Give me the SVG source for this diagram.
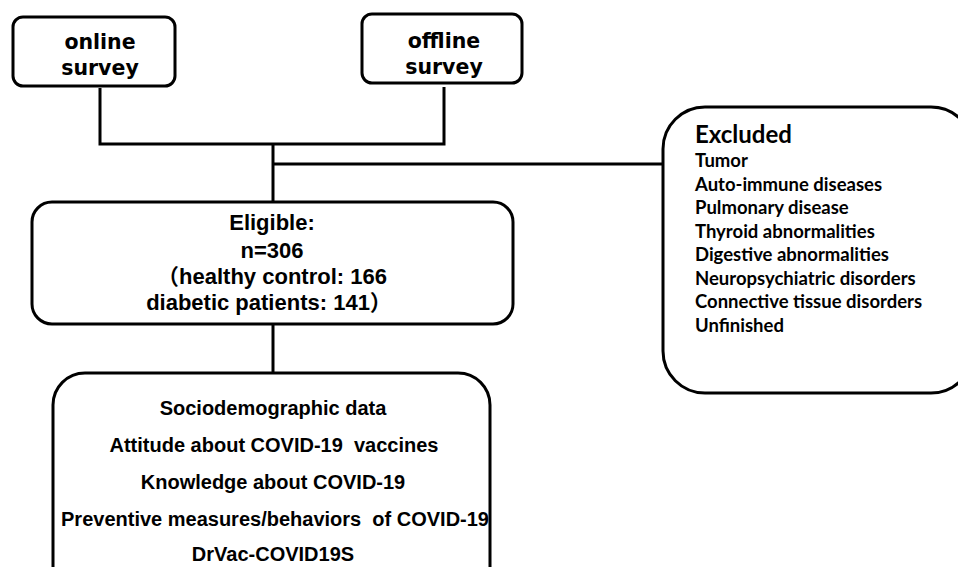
<svg xmlns="http://www.w3.org/2000/svg" width="958" height="567" viewBox="0 0 958 567">
<style>
.box{fill:#fff;stroke:#000;stroke-width:3}
.ln{fill:none;stroke:#000;stroke-width:3}
.sv{font-family:"DejaVu Sans",sans-serif;font-weight:bold;font-size:20.5px;text-anchor:middle;fill:#000}
.ar{font-family:"Liberation Sans","Noto Sans CJK SC",sans-serif;font-weight:bold;font-size:22px;text-anchor:middle;fill:#000}
.ar2{font-family:"Liberation Sans",sans-serif;font-weight:bold;font-size:20px;text-anchor:middle;fill:#000}
.ex{font-family:Lato,"Open Sans",sans-serif;font-weight:bold;font-size:18.5px;fill:#000}
.exh{font-family:Lato,"Open Sans",sans-serif;font-weight:bold;font-size:24px;fill:#000}
</style>
<rect width="958" height="567" fill="#fff"/>
<g id="connectors">
<polyline class="ln" points="100,88 100,144 444,144 444,87"/>
<line class="ln" x1="273" y1="144" x2="273" y2="203"/>
<line class="ln" x1="273" y1="164" x2="664" y2="164"/>
<line class="ln" x1="273" y1="324" x2="273" y2="374"/>
</g>
<g id="online">
<rect class="box" x="13" y="17" width="162" height="69" rx="10"/>
<text class="sv" x="100" y="49">online</text>
<text class="sv" x="100" y="75">survey</text>
</g>
<g id="offline">
<rect class="box" x="362" y="14" width="160" height="69" rx="10"/>
<text class="sv" x="444" y="48">offline</text>
<text class="sv" x="444" y="74">survey</text>
</g>
<g id="excluded">
<rect class="box" x="663" y="107" width="310" height="286" rx="42"/>
<text class="exh" x="695" y="143">Excluded</text>
<text class="ex" x="695" y="167">Tumor</text>
<text class="ex" x="695" y="191">Auto-immune diseases</text>
<text class="ex" x="695" y="214">Pulmonary disease</text>
<text class="ex" x="695" y="238">Thyroid abnormalities</text>
<text class="ex" x="695" y="261">Digestive abnormalities</text>
<text class="ex" x="695" y="285">Neuropsychiatric disorders</text>
<text class="ex" x="695" y="308">Connective tissue disorders</text>
<text class="ex" x="695" y="332">Unfinished</text>
</g>
<g id="eligible">
<rect class="box" x="32" y="202" width="481" height="122" rx="20"/>
<text class="ar" x="272" y="230">Eligible:</text>
<text class="ar" x="272" y="258">n=306</text>
<text class="ar" x="272" y="284">（healthy control: 166</text>
<text class="ar" x="269" y="310">diabetic patients: 141）</text>
</g>
<g id="data">
<rect class="box" x="53" y="373" width="437" height="230" rx="32"/>
<text class="ar2" x="273" y="415">Sociodemographic data</text>
<text class="ar2" x="274" y="452" xml:space="preserve">Attitude about COVID-19  vaccines</text>
<text class="ar2" x="273" y="489">Knowledge about COVID-19</text>
<text class="ar2" x="275" y="526" xml:space="preserve">Preventive measures/behaviors  of COVID-19</text>
<text class="ar2" x="273" y="561">DrVac-COVID19S</text>
</g>
</svg>
